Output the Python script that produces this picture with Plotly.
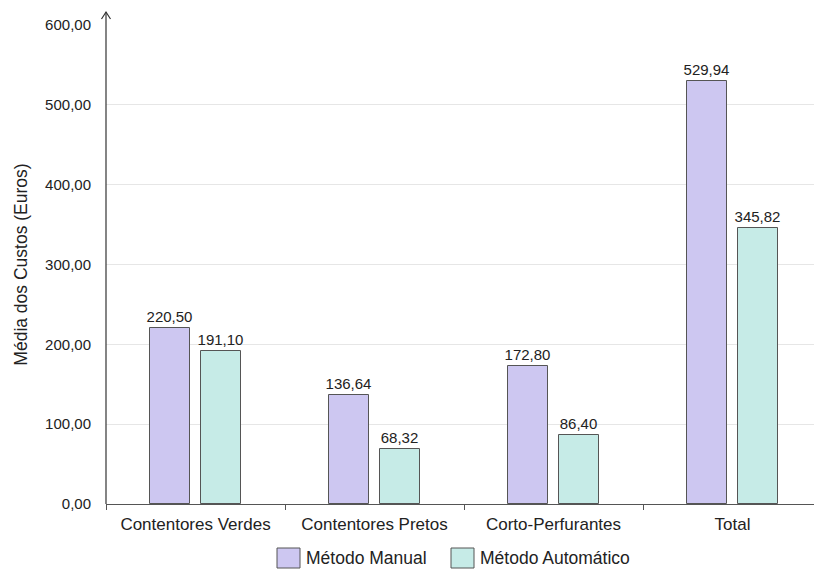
import plotly.graph_objects as go

categories = ["Contentores Verdes", "Contentores Pretos", "Corto-Perfurantes", "Total"]
series_names = ["Método Manual", "Método Automático"]
manual = [220.50, 136.64, 172.80, 529.94]
automatico = [191.10, 68.32, 86.40, 345.82]
y_ticks = [0, 100, 200, 300, 400, 500, 600]

colors = ["#cdc7f1", "#c6ebe7"]
line_col = "#555555"
FONT = "Liberation Sans, Arial, sans-serif"

W, H = 814, 569
ML, MR, MT, MB = 106, 0, 25, 65
pw, ph = W - ML - MR, H - MT - MB

def lab(v):
    return f"{v:.2f}".replace(".", ",")

fig = go.Figure()
for vals, name, col, off in [(manual, series_names[0], colors[0], -0.254),
                              (automatico, series_names[1], colors[1], 0.031)]:
    fig.add_trace(go.Bar(
        x=categories, y=vals, name=name, width=0.223, offset=off,
        marker=dict(color=col, line=dict(color=line_col, width=1)),
        text=[lab(v) for v in vals], textposition="outside",
        textfont=dict(family=FONT, size=15, color="#222222"),
        cliponaxis=False, showlegend=False,
    ))

fig.update_layout(
    width=W, height=H,
    margin=dict(l=ML, r=MR, t=MT, b=MB),
    paper_bgcolor="white", plot_bgcolor="white",
    font=dict(family=FONT, color="#222222"),
    separators=",.",
    bargap=0,
    uniformtext=dict(minsize=15, mode="show"),
    xaxis=dict(
        range=[-0.5, -0.5 + pw / 179.0],
        showline=True, linecolor="#555555", linewidth=1,
        ticks="outside", tickson="boundaries", ticklen=5, tickcolor="#555555",
        ticklabelstandoff=5,
        tickfont=dict(family=FONT, size=17, color="#222222"),
        showgrid=False,
    ),
    yaxis=dict(
        range=[0, 600], tickvals=y_ticks, tickformat=".2f",
        showgrid=True, gridcolor="#e6e6e6", gridwidth=1,
        zeroline=False, showline=False,
        ticks="", ticklabelstandoff=14,
        tickfont=dict(family=FONT, size=15, color="#222222"),
        title=dict(text="Média dos Custos (Euros)", font=dict(family=FONT, size=17.5, color="#222222"), standoff=12),
    ),
)

# y axis line with arrow
top = 1 + 13 / ph
fig.add_shape(type="line", xref="paper", yref="paper", x0=0, x1=0, y0=0, y1=top,
              line=dict(color="#333333", width=1.2), layer="above")
dx = 4.5 / pw
dy = 7 / ph
fig.add_shape(type="path", xref="paper", yref="paper",
              path=f"M {-dx} {top - dy} L 0 {top} L {dx} {top - dy}",
              line=dict(color="#333333", width=1.2), layer="above")

# manual legend
legend_items = [(277, series_names[0], colors[0]), (451, series_names[1], colors[1])]
for x0, name, col in legend_items:
    bx0 = (x0 - ML) / pw
    bx1 = (x0 + 23 - ML) / pw
    by0 = -(548 + 20 - MT - ph) / ph
    by1 = -(548 - MT - ph) / ph
    fig.add_shape(type="rect", xref="paper", yref="paper", x0=bx0, x1=bx1, y0=by0, y1=by1,
                  fillcolor=col, line=dict(color=line_col, width=1))
    fig.add_annotation(xref="paper", yref="paper", x=(x0 + 27 - ML) / pw, y=(by0 + by1) / 2,
                       text=name, showarrow=False, xanchor="left", yanchor="middle",
                       font=dict(family=FONT, size=17.5, color="#222222"))

fig.write_html("out.html")
